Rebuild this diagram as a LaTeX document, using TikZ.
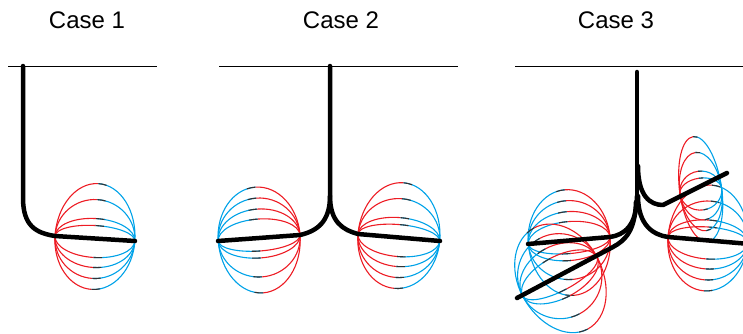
\documentclass[tikz,border=0pt]{standalone}
\usepackage{fontspec}
\setmainfont{Liberation Sans}

\definecolor{loopred}{RGB}{237,28,36}
\definecolor{loopblue}{RGB}{0,162,232}

\tikzset{
  airway/.style={line width=4.5pt, line cap=round, line join=round},
  topline/.style={line width=0.8pt},
  nearloop/.style={loopred, line width=1.1pt},
  farloop/.style={loopblue, line width=1.1pt},
  midloop/.style={black!80, line width=1.1pt},
  caselabel/.style={font=\fontsize{24}{29}\selectfont, inner sep=0pt}
}

% a set of four loops: #1 = end next to the stem, #2 = direction (clockwise),
% #3 = half length, #4 = stretch across
\newcommand\fieldloops[4]{%
  \begin{scope}[shift={#1}, rotate=-#2, yscale=#4]
    \foreach \hi/\lo in {55/51, 39/40, 20/29, 13/19}{
      \draw[nearloop] (0,0) arc[start angle=180, end angle=270, x radius=#3, y radius=\hi]
                      (0,0) arc[start angle=180, end angle=90, x radius=#3, y radius=\lo];
      \draw[farloop] (#3,-\hi) arc[start angle=270, end angle=360, x radius=#3, y radius=\hi]
                     (#3,\lo) arc[start angle=90, end angle=0, x radius=#3, y radius=\lo];
      % darker bit where the two halves meet
      \draw[midloop] (#3,-\hi) arc[start angle=270, end angle=282, x radius=#3, y radius=\hi]
                     (#3,\lo) arc[start angle=90, end angle=78, x radius=#3, y radius=\lo];
    }
  \end{scope}}

\begin{document}
\begin{tikzpicture}[x=1pt, y=-1pt]
  \useasboundingbox (0,0) rectangle (743,333);

  \node[caselabel] (case1) at (87,20) {Case 1};
  \node[caselabel] (case2) at (341,20) {Case 2};
  \node[caselabel] (case3) at (616,20) {Case 3};

  % case 1
  \draw[topline] (8,66) -- (157,66);
  \fieldloops{(55,236)}{3.6}{40}{1}
  \draw[airway] (23,66) -- (23,198) .. controls (23,226) and (36,233) .. (55,236) -- (135,241);

  % case 2
  \draw[topline] (219,66) -- (458,66);
  \fieldloops{(300,235)}{175.8}{41}{1}
  \fieldloops{(358,234)}{5}{41}{1}
  \draw[airway] (330,66) -- (330,196) .. controls (330,222) and (317,231) .. (300,235) -- (218,241);
  \draw[airway] (330,196) .. controls (330,222) and (343,230) .. (358,234) -- (440,241);

  % case 3
  \draw[topline] (515,66) -- (743,66);
  \fieldloops{(610,237)}{175}{41}{1}
  \fieldloops{(597,257)}{152.2}{42}{1.08}
  \fieldloops{(668,237)}{4.3}{40}{1}
  \fieldloops{(680,194)}{-8}{21}{1}
  \draw[airway] (637,72) -- (637,200);
  \draw[airway] (638,166) .. controls (638,196) and (650,205) .. (663,205) -- (727,173);
  \draw[airway] (638,196) .. controls (638,226) and (654,235) .. (668,237) -- (750,244);
  \draw[airway] (637,196) .. controls (637,226) and (624,235) .. (610,237) -- (528,244);
  \draw[airway] (636,202) .. controls (635,230) and (626,240) .. (613,247) -- (517,298);
\end{tikzpicture}
\end{document}
